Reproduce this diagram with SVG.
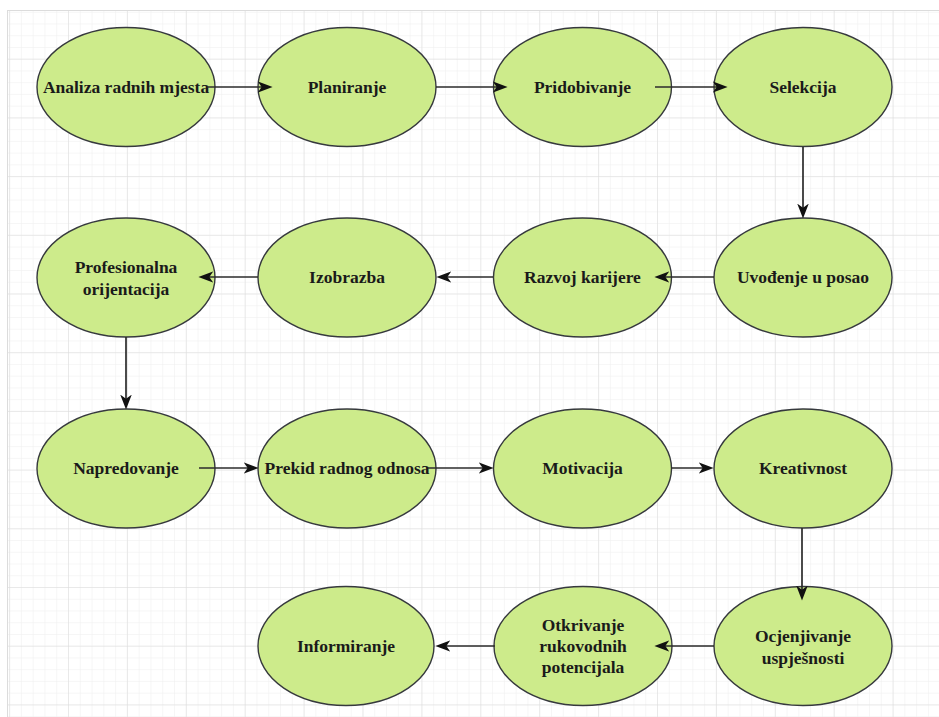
<svg xmlns="http://www.w3.org/2000/svg" width="939" height="717" viewBox="0 0 939 717">
<style>
.n ellipse{fill:#cdeb8b;stroke:#36393d;stroke-width:1.4}
.n text{font-family:"Liberation Serif","Times New Roman",serif;font-weight:bold;font-size:17.5px;fill:#1a1a1a;text-anchor:middle}
#edges path{fill:none;stroke:#2b2b2b;stroke-width:1.7}
</style>
<defs>
<pattern id="minor" patternUnits="userSpaceOnUse" x="68" y="0" width="11.78" height="11.74">
<path d="M0,0V11.74M0,0H11.78" fill="none" stroke="#eeeeee" stroke-width="1"/>
</pattern>
<pattern id="major" patternUnits="userSpaceOnUse" x="68" y="0" width="58.9" height="58.7">
<path d="M0,0V58.7M0,0H58.9" fill="none" stroke="#dcdcdc" stroke-width="1"/>
</pattern>
<marker id="arr" markerUnits="userSpaceOnUse" markerWidth="15" markerHeight="13" viewBox="0 0 13 11" refX="9" refY="5.5" orient="auto">
<path d="M0,0.5L13,5.5L0,10.5L3.5,5.5z" fill="#111"/>
</marker>
</defs>
<rect width="939" height="717" fill="#fff"/>
<rect x="7" y="10" width="932" height="707" fill="url(#minor)"/>
<rect x="7" y="10" width="932" height="707" fill="url(#major)"/>
<path d="M7.5,10V717M7,10.5H939" stroke="#dcdcdc" fill="none"/>

<g id="n1" class="n"><ellipse cx="126" cy="87" rx="89" ry="59.5"/><text x="126" y="93">Analiza radnih mjesta</text></g>
<g id="n2" class="n"><ellipse cx="347" cy="87" rx="89" ry="59.5"/><text x="347" y="93">Planiranje</text></g>
<g id="n3" class="n"><ellipse cx="582.5" cy="87" rx="89" ry="59.5"/><text x="582.5" y="93">Pridobivanje</text></g>
<g id="n4" class="n"><ellipse cx="803" cy="87" rx="89" ry="59.5"/><text x="803" y="93">Selekcija</text></g>

<g id="n5" class="n"><ellipse cx="803" cy="277.5" rx="89" ry="59.5"/><text x="803" y="283">Uvođenje u posao</text></g>
<g id="n6" class="n"><ellipse cx="582.5" cy="277.5" rx="89" ry="59.5"/><text x="582.5" y="283">Razvoj karijere</text></g>
<g id="n7" class="n"><ellipse cx="347" cy="277.5" rx="89" ry="59.5"/><text x="347" y="283">Izobrazba</text></g>
<g id="n8" class="n"><ellipse cx="126" cy="277.5" rx="89" ry="59.5"/><text x="126" y="273">Profesionalna</text><text x="126" y="295">orijentacija</text></g>

<g id="n9" class="n"><ellipse cx="126" cy="468.5" rx="89" ry="59.5"/><text x="126" y="474">Napredovanje</text></g>
<g id="n10" class="n"><ellipse cx="347" cy="468.5" rx="89" ry="59.5"/><text x="347" y="474">Prekid radnog odnosa</text></g>
<g id="n11" class="n"><ellipse cx="582.5" cy="468.5" rx="89" ry="59.5"/><text x="582.5" y="474">Motivacija</text></g>
<g id="n12" class="n"><ellipse cx="803" cy="468.5" rx="89" ry="59.5"/><text x="803" y="474">Kreativnost</text></g>

<g id="n13" class="n"><ellipse cx="803" cy="646" rx="89" ry="59.5"/><text x="803" y="642">Ocjenjivanje</text><text x="803" y="664">uspješnosti</text></g>
<g id="n14" class="n"><ellipse cx="583" cy="646" rx="89" ry="59.5"/><text x="583" y="631">Otkrivanje</text><text x="583" y="652">rukovodnih</text><text x="583" y="673">potencijala</text></g>
<g id="n15" class="n"><ellipse cx="346" cy="646" rx="88" ry="59.5"/><text x="346" y="652">Informiranje</text></g>

<g id="edges" marker-end="url(#arr)">
<path d="M207,87H268"/>
<path d="M436,87H503"/>
<path d="M655,87H723"/>
<path d="M803,147V214"/>
<path d="M714,277H659"/>
<path d="M493,277H441"/>
<path d="M258,277H203"/>
<path d="M126,337V405"/>
<path d="M199,468H254"/>
<path d="M428,468H489"/>
<path d="M671,468H709"/>
<path d="M802,528V596"/>
<path d="M714,646H659"/>
<path d="M495,646H440"/>
</g>
</svg>
